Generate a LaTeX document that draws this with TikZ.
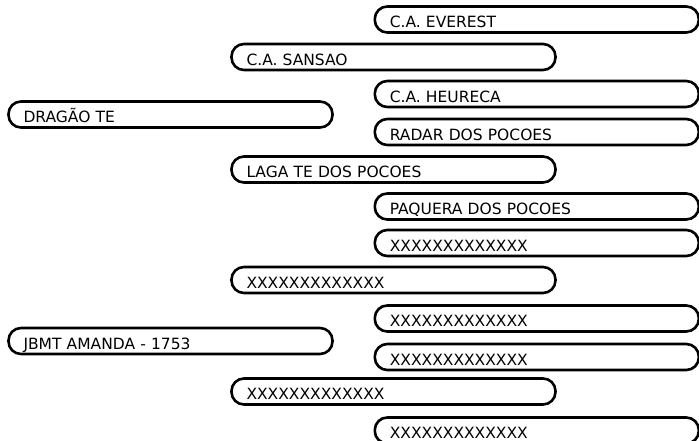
\documentclass[tikz,border=0pt]{standalone}
\usepackage{fontspec}
\setmainfont{DejaVu Sans}
\tikzset{horse/.style={draw, line width=2.6pt, rounded corners=12.5pt, anchor=west,
  minimum height=26pt, text width=294pt, align=left, inner xsep=15pt, inner ysep=0pt,
  text height=16.5pt, text depth=0pt, font=\fontsize{15.5}{17}\selectfont}}

\begin{document}
\begin{tikzpicture}[x=1pt, y=-1pt]
\useasboundingbox (0,0) rectangle (699,441);
\clip (0,0) rectangle (699,441);
% parents
\node[horse] (s) at (7.2,114.5) {DRAGÃO TE};
\node[horse] (d) at (7.2,341) {JBMT AMANDA - 1753};
% grandparents
\node[horse] (ss) at (230.2,57) {C.A. SANSAO};
\node[horse] (sd) at (230.2,169.5) {LAGA TE DOS POCOES};
\node[horse] (ds) at (230.2,280) {XXXXXXXXXXXXX};
\node[horse] (dd) at (230.2,391.5) {XXXXXXXXXXXXX};
% great-grandparents
\node[horse] (sss) at (373.5,19.5) {C.A. EVEREST};
\node[horse] (ssd) at (373.5,94) {C.A. HEURECA};
\node[horse] (sds) at (373.5,132) {RADAR DOS POCOES};
\node[horse] (sdd) at (373.5,206.5) {PAQUERA DOS POCOES};
\node[horse] (dss) at (373.5,243) {XXXXXXXXXXXXX};
\node[horse] (dsd) at (373.5,318.5) {XXXXXXXXXXXXX};
\node[horse] (dds) at (373.5,357) {XXXXXXXXXXXXX};
\node[horse] (ddd) at (373.5,430.5) {XXXXXXXXXXXXX};
\end{tikzpicture}
\end{document}
